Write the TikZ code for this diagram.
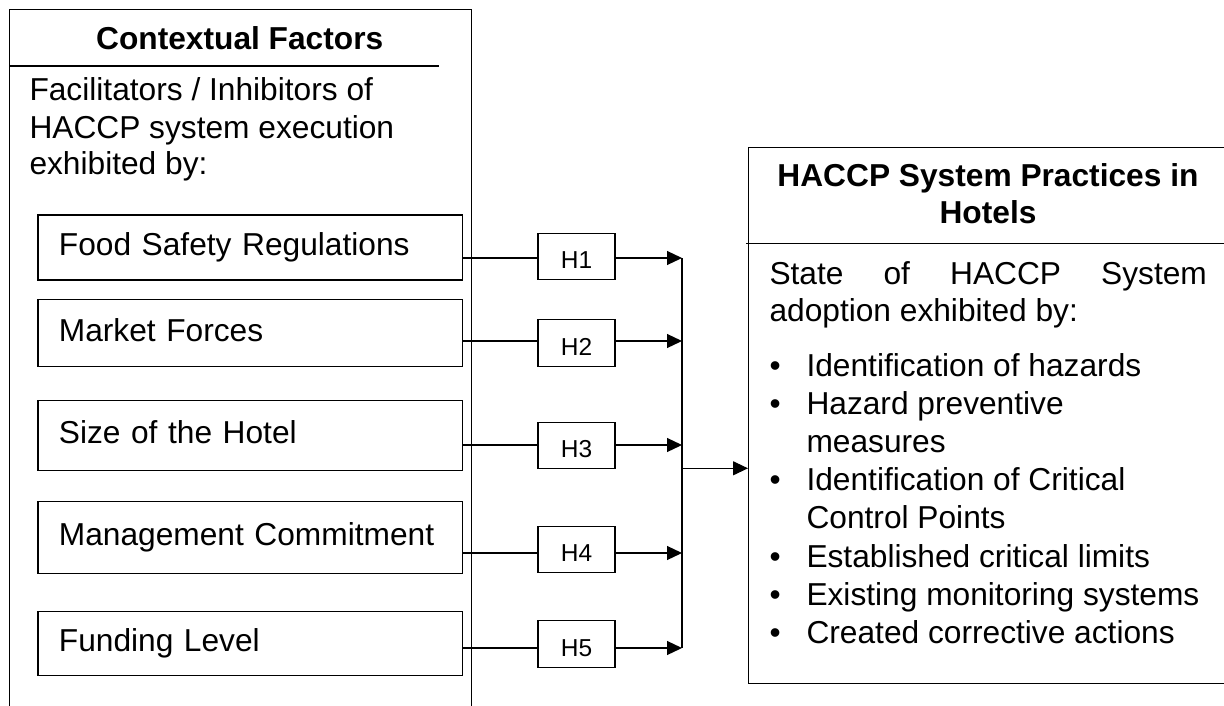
\documentclass[tikz,border=0pt]{standalone}
\usepackage{fontspec}
\setmainfont{Liberation Sans}
\usetikzlibrary{arrows.meta}
% one bullet line of the practices list, with a hanging indent
\newcommand\practiceitem[1]{\makebox[37pt][l]{\textbullet}#1}
\begin{document}
\begin{tikzpicture}[x=1pt,y=-1pt,
  every node/.style={inner sep=0pt, font=\fontsize{31.7}{37}\selectfont},
  outline/.style={draw=black, line width=1.2pt},
  frame/.style={outline, rectangle, anchor=north west},
  factor/.style={outline, rectangle, anchor=north west, minimum width=424.7pt,
    inner xsep=21pt, text width=382.7pt, align=left, text height=23pt, text depth=7pt},
  hyp/.style={outline, rectangle, minimum width=77pt, minimum height=46.5pt,
    font=\fontsize{24.5}{28}\selectfont, text height=24.5pt, text depth=0pt},
  link/.style={draw=black, line width=1.2pt},
  arrow/.style={link, -{Triangle[length=15pt,width=14pt]}},
  txt/.style={anchor=base west},
  ttl/.style={anchor=base, font=\fontsize{31.7}{37}\selectfont\bfseries}
]
\useasboundingbox (0,0) rectangle (1224,706);
\clip (0,0) rectangle (1224,706);

% ---- contextual factors panel (runs past the lower edge)
\node[frame, minimum width=462pt, minimum height=730pt] (ctx) at (9,9) {};
\draw[link] (9,66) -- (439,66);
\node[ttl] (ctxtitle) at (239.7,50) {Contextual Factors};
\node[txt] (ctx1) at (29.3,101) {Facilitators / Inhibitors of};
\node[txt] (ctx2) at (29.3,138.3) {HACCP system execution};
\node[txt] (ctx3) at (29.3,175) {exhibited by:};

\node[factor, minimum height=65pt] (f1) at (37.3,214.3) {Food Safety Regulations};
\node[factor, minimum height=67pt] (f2) at (37.3,299) {Market Forces};
\node[factor, minimum height=70pt] (f3) at (37.3,400) {Size of the Hotel};
\node[factor, minimum height=72pt] (f4) at (37.3,501) {Management Commitment};
\node[factor, minimum height=64.3pt] (f5) at (37.3,610.7) {Funding Level};

% ---- hypotheses
\node[hyp] (h1) at (576.5,256.5) {H1};
\node[hyp] (h2) at (576.5,343) {H2};
\node[hyp] (h3) at (576.5,445.5) {H3};
\node[hyp] (h4) at (576.5,549.5) {H4};
\node[hyp] (h5) at (576.5,644) {H5};

% junctions on the collecting bar
\coordinate (j1) at (682,258);
\coordinate (j2) at (682,341);
\coordinate (j3) at (682,445);
\coordinate (j4) at (682,553);
\coordinate (j5) at (682,648);
\coordinate (jout) at (682,468.3);

% ---- HACCP practices panel (runs past the right edge)
\node[frame, minimum width=480pt, minimum height=535.8pt] (practice) at (748,146.7) {};
\draw[link] (746,243.5) -- (1224,243.5);
\node[ttl] (pt1) at (988,186.5) {HACCP System Practices in};
\node[ttl] (pt2) at (988,223.2) {Hotels};
\node[txt] (st1) at (769.3,284.5) {\makebox[437.4pt][s]{State\hfill of\hfill HACCP\hfill System}};
\node[txt] (st2) at (769.3,321.2) {adoption exhibited by:};
\node[txt] (b1) at (769.3,376.3) {\practiceitem{Identification of hazards}};
\node[txt] (b2) at (769.3,414.5) {\practiceitem{Hazard preventive}};
\node[txt] (b2b) at (806.3,452.6) {measures};
\node[txt] (b3) at (769.3,490.8) {\practiceitem{Identification of Critical}};
\node[txt] (b3b) at (806.3,528.9) {Control Points};
\node[txt] (b4) at (769.3,567.1) {\practiceitem{Established critical limits}};
\node[txt] (b5) at (769.3,605.2) {\practiceitem{Existing monitoring systems}};
\node[txt] (b6) at (769.3,643.4) {\practiceitem{Created corrective actions}};

% ---- connectors
\foreach \i in {1,...,5}{
  \draw[link] (f\i.east |- j\i) -- (h\i.west |- j\i);
  \draw[arrow] (h\i.east |- j\i) -- (j\i);
}
\draw[link] (j1) -- (j5);
\draw[arrow] (jout) -- (practice.west |- jout);
\end{tikzpicture}
\end{document}
